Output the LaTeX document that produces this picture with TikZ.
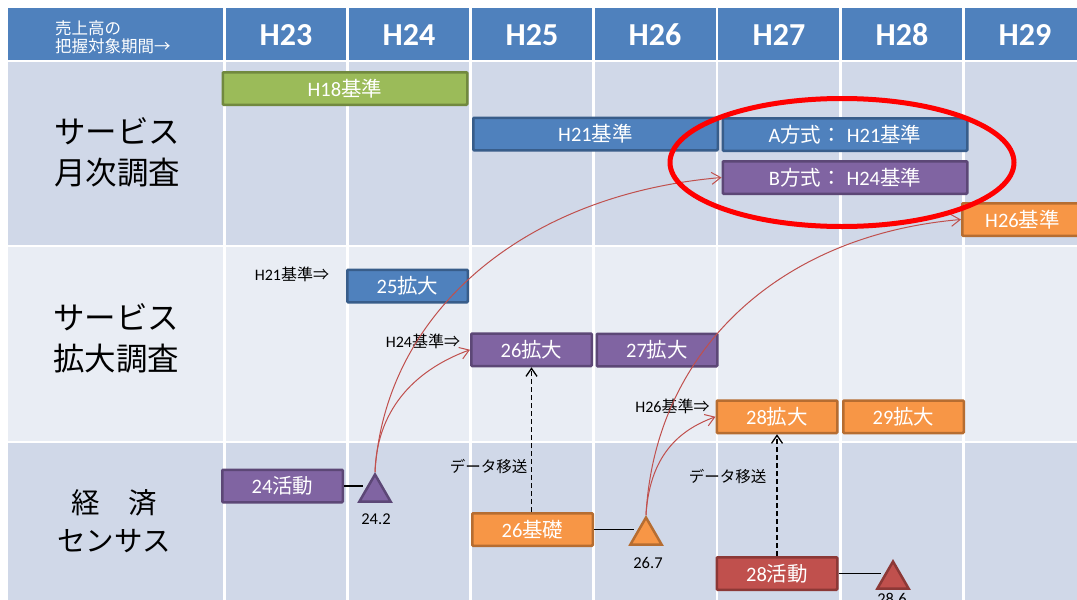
\documentclass[tikz,border=0pt]{standalone}
\usepackage{fontspec}
\setmainfont{Carlito}
\newfontfamily\jp{Noto Sans CJK JP}
\usetikzlibrary{shapes.geometric,arrows.meta}
\newcommand{\J}[1]{{\jp #1}}
\definecolor{hdr}{HTML}{4F81BD}
\definecolor{rowA}{HTML}{D0D8E8}
\definecolor{rowB}{HTML}{E9EDF4}
\definecolor{grnF}{HTML}{9BBB59}\definecolor{grnD}{HTML}{71893F}
\definecolor{bluF}{HTML}{4F81BD}\definecolor{bluD}{HTML}{385D8A}
\definecolor{purF}{HTML}{8064A2}\definecolor{purD}{HTML}{5C4776}
\definecolor{orgF}{HTML}{F79646}\definecolor{orgD}{HTML}{B66D31}
\definecolor{redF}{HTML}{C0504D}\definecolor{redD}{HTML}{8C3836}
\definecolor{ringred}{HTML}{FF0000}
\tikzset{
  bar/.style={draw, line width=2.5pt, rounded corners=1pt, minimum width=120.5pt,
    minimum height=32.5pt, inner sep=0pt, text=white, font=\fontsize{20.5}{20.5}\selectfont},
  wide/.style={bar, minimum width=244.5pt},
  green/.style={fill=grnF, draw=grnD},
  blue/.style={fill=bluF, draw=bluD},
  purple/.style={fill=purF, draw=purD},
  orange/.style={fill=orgF, draw=orgD},
  redbox/.style={fill=redF, draw=redD},
  tri/.style={regular polygon, regular polygon sides=3, minimum size=36pt, inner sep=0pt, line width=2.5pt},
  hdtext/.style={text=white, font=\fontsize{32}{32}\selectfont\bfseries},
  rowlabel/.style={align=center, font=\jp\fontsize{31.5}{41}\selectfont},
  note/.style={font=\fontsize{16}{16}\selectfont, inner sep=0pt},
  numlbl/.style={font=\fontsize{16.5}{16.5}\selectfont, inner sep=0pt},
  redarr/.style={draw=redF, line width=1pt, -{Straight Barb[length=9pt,width=12pt]}},
  dasharr/.style={line width=1.3pt, dash pattern=on 5pt off 3pt, -{Straight Barb[length=8pt,width=11pt]}},
}
\begin{document}
\begin{tikzpicture}[x=1pt,y=-1pt]
\useasboundingbox (0,0) rectangle (1077,600);
\fill[white] (0,0) rectangle (1077,600);
% grid
\foreach \ya/\yb/\c in {8/59.5/hdr, 62/245.3/rowA, 247.3/440.5/rowB, 442.8/610/rowA}{
  \foreach \xa/\xb in {8/223.3, 225.7/346.3, 348.7/469.3, 471.7/592.3, 594.7/715.8, 718.2/839.3, 841.7/962.3, 964.7/1090}{
    \fill[\c] (\xa,\ya) rectangle (\xb,\yb);
  }
}
% header
\node[text=white, anchor=west, align=left, font=\jp\fontsize{16.5}{18}\selectfont, inner sep=0pt] (hdlead) at (55,37) {売上高の\\把握対象期間→};
\node[hdtext] (hd23) at (286,35) {H23};
\node[hdtext] (hd24) at (409,35) {H24};
\node[hdtext] (hd25) at (532,35) {H25};
\node[hdtext] (hd26) at (655,35) {H26};
\node[hdtext] (hd27) at (779,35) {H27};
\node[hdtext] (hd28) at (902,35) {H28};
\node[hdtext] (hd29) at (1025,35) {H29};
% row labels
\node[rowlabel] (rl1) at (117,152.5) {サービス\\月次調査};
\node[rowlabel] (rl2) at (116,338) {サービス\\拡大調査};
\node[rowlabel, font=\jp\fontsize{28.5}{38}\selectfont] (rl3) at (114,521) {経　済\\センサス};
% row 1 bars
\node[wide, green] (h18) at (345,88.5) {H18\J{基準}};
\node[wide, blue] (h21) at (595.5,134) {H21\J{基準}};
\node[wide, blue] (amode) at (845,134.5) {A\J{方式：}\hspace{5pt}H21\J{基準}};
\node[wide, purple] (bmode) at (845,177.5) {B\J{方式：}\hspace{5pt}H24\J{基準}};
\node[bar, orange] (h26) at (1022.5,219.5) {H26\J{基準}};
% row 2 bars
\node[bar, blue] (e25) at (407.5,286) {25\J{拡大}};
\node[bar, purple] (e26) at (531.5,349.75) {26\J{拡大}};
\node[bar, purple] (e27) at (657,350) {27\J{拡大}};
\node[bar, orange] (e28) at (777,416.75) {28\J{拡大}};
\node[bar, orange] (e29) at (903.5,416.75) {29\J{拡大}};
\node[note] (n21) at (292,274) {H21\J{基準⇒}};
\node[note] (n24) at (423,341) {H24\J{基準⇒}};
\node[note] (n26) at (672.5,406) {H26\J{基準⇒}};
% row 3
\node[bar, purple] (a24) at (282.5,486) {24\J{活動}};
\node[bar, orange] (k26) at (532.5,529.5) {26\J{基礎}};
\node[bar, redbox] (a28) at (777,573.5) {28\J{活動}};
\node[tri, fill=purF, draw=purD] (t24) at (375,492.5) {};
\node[tri, fill=orgF, draw=orgD] (t26) at (646,535.5) {};
\node[tri, fill=redF, draw=redD] (t28) at (893,579.5) {};
\node[numlbl] (l24) at (376,519.5) {24.2};
\node[numlbl] (l26) at (648,562.5) {26.7};
\node[numlbl] (l28) at (892,599) {28.6};
\draw[line width=1.3pt] (a24.east) -- (a24.east -| t24.west);
\draw[line width=1.3pt] (k26.east) -- (k26.east -| t26.west);
\draw[line width=1.3pt] (a28.east) -- (a28.east -| t28.west);
% data transfer
\draw[dasharr] (e26.south |- k26.north) -- (e26.south);
\draw[dasharr] (a28.north) -- (e28.south);
\node[font=\jp\fontsize{15.5}{15.5}\selectfont, inner sep=0pt] (dt1) at (488.5,467) {データ移送};
\node[font=\jp\fontsize{15.5}{15.5}\selectfont, inner sep=0pt] (dt2) at (727.5,477) {データ移送};
% red curves
\draw[redarr] (t24.corner 1) .. controls (377,405) and (420,368) .. (e26.west);
\draw[redarr] (t24.corner 1) .. controls (385,315) and (520,195) .. (bmode.west);
\draw[redarr] (t26.corner 1) .. controls (650,450) and (685,428) .. (e28.west);
\draw[redarr] (t26.corner 1) .. controls (655,350) and (780,235) .. (h26.west);
% ring
\node[ellipse, draw=ringred, line width=5pt, minimum width=344pt, minimum height=128pt, inner sep=0pt] (ring) at (842,162.5) {};
\end{tikzpicture}
\end{document}
